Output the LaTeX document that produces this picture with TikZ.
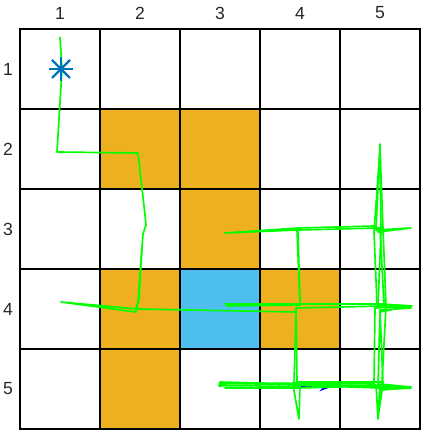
\documentclass[tikz,border=0pt]{standalone}
\usepackage{fontspec}
\setmainfont{Liberation Sans}
\usetikzlibrary{arrows.meta,calc}

\begin{document}
\begin{tikzpicture}[
  x=0.02cm, y=-0.02cm,
  font=\fontsize{10}{12}\selectfont,
  >=Stealth,
  freecell/.style={rectangle, draw=black, line width=0.65pt, fill=white, minimum size=1.6cm, inner sep=0pt},
  wallcell/.style={freecell, fill=wallorange},
  goalcell/.style={freecell, fill=goalblue},
  axlabel/.style={inner sep=0pt, text=black!85},
  trail/.style={draw=trailgreen, line width=0.95pt, line join=round},
  startmark/.style={draw=startblue, line width=1.4pt}
]
  \definecolor{wallorange}{HTML}{EDB120}
  \definecolor{goalblue}{HTML}{4DBEEE}
  \definecolor{trailgreen}{HTML}{00FF00}
  \definecolor{startblue}{HTML}{0072BD}
  \useasboundingbox (0,0) rectangle (430,432);

  % grid cells
  \foreach \r in {1,...,5}{
    \foreach \c in {1,...,5}{
      \node[freecell] (c\r\c) at ({60+80*(\c-1)},{69+80*(\r-1)}) {};
    }
  }
  \node[wallcell] (c22) at (140,149) {};
  \node[wallcell] (c23) at (220,149) {};
  \node[wallcell] (c33) at (220,229) {};
  \node[wallcell] (c42) at (140,309) {};
  \node[wallcell] (c44) at (300,309) {};
  \node[wallcell] (c52) at (140,389) {};
  \node[goalcell] (c43) at (220,309) {};

  % axis numbers
  \foreach \c in {1,...,5}{
    \node[axlabel] (col\c) at ({60+80*(\c-1)},13) {\c};
  }
  \foreach \r in {1,...,5}{
    \node[axlabel] (row\r) at (8,{69+80*(\r-1)}) {\r};
  }

  % heading arrow
  \draw[->, draw=blue, line width=0.8pt] (300,387) -- (331,387);

  % noisy path
  \draw[trail] (60,37) -- (62,69) -- (57,152) -- (138,153) -- (145,215)
    -- (146,225) -- (143,234) -- (138,302) -- (136,312) -- (61,302)
    -- (137,309) -- (296,312) -- (294,384) -- (220,382) -- (219,386)
    -- (296,384) -- (378,386) -- (411,387) -- (380,384) -- (378,418)
    -- (383,384) -- (380,310) -- (411,308) -- (378,306) -- (381,232)
    -- (380,144) -- (376,230) -- (411,228) -- (378,232) -- (375,226)
    -- (298,228) -- (225,233) -- (297,230) -- (300,305) -- (225,304)
    -- (380,304) -- (410,306) -- (380,312) -- (378,386) -- (298,388)
    -- (225,388) -- (300,386) -- (299,419) -- (293,385) -- (380,388)
    -- (411,388) -- (380,390) -- (378,419) -- (376,385) -- (325,387);
  \draw[trail] (142,245) -- (139,300) -- (135,310);
  \draw[trail] (226,306) -- (300,305) -- (298,230)
    -- (380,228) -- (384,306) -- (296,308) -- (297,382) -- (382,382)
    -- (386,306) -- (380,150) -- (374,232) -- (377,304) -- (412,306)
    -- (375,308) -- (374,384) -- (300,383) -- (220,384);

  % start marker
  \coordinate (start) at (61,69);
  \draw[startmark] ($(start)+(-12,0)$) -- ($(start)+(12,0)$);
  \draw[startmark] ($(start)+(0,-12)$) -- ($(start)+(0,12)$);
  \draw[startmark] ($(start)+(-9,-9)$) -- ($(start)+(9,9)$);
  \draw[startmark] ($(start)+(-9,9)$) -- ($(start)+(9,-9)$);
\end{tikzpicture}
\end{document}
